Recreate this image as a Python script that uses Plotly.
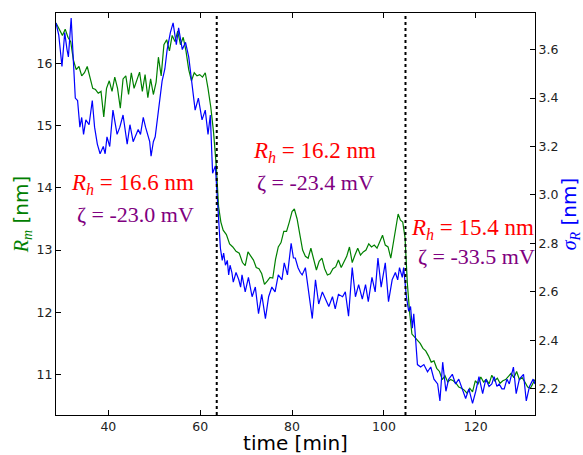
import plotly.graph_objects as go

# Green series: mean radius R_m [nm] (left axis)
t_rm = [28.6, 29.3, 30.0, 30.6, 31.2, 31.8, 32.4, 33.0, 33.6, 34.2, 34.8, 35.4, 36.0, 36.6, 37.2, 37.8,
        38.4, 39.0, 39.6, 40.2, 40.8, 41.4, 42.0, 42.6, 43.2, 43.8, 44.4, 45.0, 45.6, 46.2, 46.8, 47.4,
        48.0, 48.6, 49.2, 49.8, 50.4, 50.9, 51.5, 52.1, 52.7, 53.3, 53.9, 54.5, 55.1, 55.7, 56.3, 56.9,
        57.5, 58.1, 58.7, 59.3, 59.9, 60.5, 61.1, 61.7, 62.3, 62.9, 63.5, 64.0, 64.5, 65.0, 65.7, 66.4,
        67.1, 67.8, 68.5, 69.2, 69.8, 70.4, 71.0, 71.6, 72.2, 72.8, 73.4, 74.0, 74.6, 75.2, 75.8, 76.4,
        77.0, 77.6, 78.2, 78.8, 79.4, 80.0, 80.5, 81.1, 81.7, 82.3, 82.9, 83.5, 84.1, 84.7, 85.3, 85.9,
        86.5, 87.1, 87.7, 88.3, 88.9, 89.5, 90.1, 90.7, 91.3, 91.9, 92.5, 93.1, 93.7, 94.3, 94.9, 95.5,
        96.1, 96.7, 97.3, 97.9, 98.5, 99.1, 99.7, 100.3, 100.9, 101.5, 102.1, 102.6, 103.1, 103.6, 104.1,
        104.6, 105.1, 105.6, 106.1, 106.7, 107.3, 107.9, 108.5, 109.1, 109.7, 110.3, 110.9, 111.5, 112.1,
        112.7, 113.3, 113.9, 114.5, 115.1, 115.7, 116.3, 116.9, 117.5, 118.1, 118.7, 119.3, 119.9, 120.5,
        121.1, 121.7, 122.3, 122.9, 123.5, 124.1, 124.7, 125.3, 125.9, 126.5, 127.1, 127.7, 128.3, 128.9,
        129.5, 130.1, 130.7, 131.3, 131.9, 132.9]
rm = [16.65, 16.55, 16.45, 16.55, 16.42, 16.35, 16.05, 15.9, 15.95, 15.8, 15.85, 15.95, 15.78, 15.6, 15.58, 15.52,
      15.55, 15.14, 15.6, 15.72, 15.55, 15.78, 15.6, 15.28, 15.75, 15.8, 15.5, 15.85, 15.6, 15.72, 15.86, 15.55,
      15.82, 15.45, 15.75, 15.5, 15.7, 16.1, 15.8, 16.3, 16.38, 16.2, 16.45, 16.35, 16.52, 16.3, 16.42, 16.2,
      15.9, 15.72, 15.85, 15.8, 15.82, 15.78, 15.85, 15.6, 15.3, 14.9, 14.35, 13.7, 13.45, 13.32, 13.25, 13.1,
      13.05, 12.98, 12.95, 12.8, 12.75, 12.97, 12.9, 12.84, 12.72, 12.7, 12.62, 12.45, 12.5, 12.56, 12.55, 12.85,
      13.05, 13.12, 13.3, 13.3, 13.45, 13.62, 13.66, 13.5, 13.25, 13.0, 12.9, 12.87, 13.03, 12.85, 12.68, 12.82,
      12.87, 12.7, 12.6, 12.62, 12.7, 12.73, 12.84, 12.72, 12.8, 12.9, 13.05, 12.8, 12.92, 13.03, 12.92, 12.97,
      13.0, 13.1, 13.05, 13.08, 13.03, 13.15, 13.24, 13.08, 13.05, 12.87, 13.15, 13.4, 13.58, 13.48, 13.45,
      13.2, 12.47, 12.0, 11.65, 11.6, 11.55, 11.5, 11.42, 11.38, 11.3, 11.2, 11.22, 11.1, 11.05,
      10.92, 10.98, 10.88, 10.92, 10.9, 10.86, 10.8, 10.78, 10.75, 10.7, 10.78, 10.72, 10.9, 10.85,
      10.96, 10.88, 10.92, 10.85, 10.99, 10.9, 10.94, 10.86, 10.9, 10.92, 10.98, 11.02, 10.95, 11.05,
      10.92, 10.95, 10.88, 10.8, 10.78, 10.92]

# Blue series: width sigma_R [nm] (right axis)
t_sig = [28.6, 29.2, 29.9, 30.5, 31.0, 31.3, 31.9, 32.5, 32.8, 33.3, 33.8, 34.2, 34.6, 35.1, 35.8, 36.5,
         37.0, 37.6, 38.2, 38.9, 39.3, 39.7, 40.3, 41.0, 41.5, 41.9, 42.5, 43.2, 44.1, 44.7, 45.4, 46.0,
         46.5, 47.0, 47.6, 48.1, 48.5, 49.0, 49.3, 49.8, 50.2, 50.9, 51.7, 52.3, 52.8, 53.5, 54.1, 54.8,
         55.3, 56.1, 56.8, 57.5, 58.2, 58.9, 59.6, 60.4, 61.1, 61.7, 62.2, 62.7, 63.3, 63.7, 64.0, 64.4,
         64.8, 65.1, 65.5, 65.9, 66.2, 66.5, 66.9, 67.2, 67.8, 68.4, 68.8, 69.1, 69.8, 70.5, 71.3, 72.0,
         72.7, 73.4, 74.2, 74.9, 75.6, 76.3, 77.0, 77.8, 78.3, 79.0, 79.8, 80.3, 80.7, 81.3, 81.8, 82.2,
         82.9, 83.6, 84.4, 85.1, 85.8, 86.6, 87.3, 88.0, 88.8, 89.4, 90.1, 91.0, 91.6, 92.3, 93.1, 93.8,
         94.5, 95.3, 96.0, 96.6, 97.4, 98.1, 98.7, 99.4, 100.3, 101.0, 101.8, 102.5, 103.0, 103.4, 104.0,
         104.3, 104.9, 105.4, 105.8, 106.2, 106.5, 106.9, 107.3, 108.0, 108.7, 109.5, 110.2, 110.9, 111.7,
         112.2, 112.8, 113.5, 114.1, 114.9, 115.6, 116.3, 117.1, 117.8, 118.5, 119.3, 120.0, 120.7, 121.5,
         122.2, 122.9, 123.5, 124.0, 124.6, 125.1, 125.7, 126.2, 126.8, 127.3, 128.2, 128.8, 129.5, 130.4,
         131.0, 131.7, 132.5, 132.9]
sig = [3.71, 3.66, 3.53, 3.67, 3.60, 3.57, 3.73, 3.51, 3.40, 3.39, 3.28, 3.32, 3.25, 3.31, 3.29, 3.39,
       3.28, 3.21, 3.17, 3.20, 3.17, 3.24, 3.20, 3.35, 3.30, 3.25, 3.28, 3.33, 3.21, 3.29, 3.22, 3.25,
       3.27, 3.25, 3.32, 3.28, 3.25, 3.22, 3.16, 3.22, 3.24, 3.35, 3.47, 3.52, 3.60, 3.67, 3.71, 3.62,
       3.69, 3.60, 3.63, 3.57, 3.46, 3.35, 3.40, 3.31, 3.35, 3.25, 3.33, 3.09, 3.12, 3.00, 2.88, 2.78,
       2.73, 2.76, 2.71, 2.73, 2.67, 2.71, 2.68, 2.64, 2.68, 2.65, 2.62, 2.67, 2.60, 2.66, 2.58, 2.62,
       2.51, 2.59, 2.49, 2.58, 2.62, 2.60, 2.67, 2.65, 2.72, 2.67, 2.80, 2.74, 2.74, 2.70, 2.68, 2.67,
       2.70, 2.59, 2.49, 2.65, 2.55, 2.60, 2.57, 2.54, 2.58, 2.53, 2.59, 2.58, 2.60, 2.50, 2.70, 2.58,
       2.63, 2.57, 2.63, 2.56, 2.66, 2.60, 2.74, 2.62, 2.72, 2.56, 2.65, 2.68, 2.65, 2.70, 2.66,
       2.70, 2.58, 2.52, 2.54, 2.45, 2.51, 2.40, 2.30, 2.29, 2.30, 2.27, 2.29, 2.24, 2.22,
       2.15, 2.31, 2.19, 2.24, 2.26, 2.22, 2.24, 2.20, 2.16, 2.20, 2.14, 2.19, 2.25, 2.18,
       2.24, 2.21, 2.22, 2.25, 2.21, 2.22, 2.20, 2.20, 2.24, 2.22, 2.29, 2.18, 2.24, 2.26,
       2.15, 2.21, 2.24, 2.22]

# Vertical dotted markers (time, min)
t_marks = [63.6, 104.7]

# Annotations per stage
rh_labels = ["16.6", "16.2", "15.4"]
zeta_labels = ["-23.0", "-23.4", "-33.5"]
rh_pos = [(31.4, 14.06), (71.0, 14.57), (105.5, 13.34)]
zeta_pos = [(32.7, 13.58), (72.0, 14.08), (106.9, 12.89)]

x_ticks = [40, 60, 80, 100, 120]
y_ticks = [11, 12, 13, 14, 15, 16]
y2_ticks = [2.2, 2.4, 2.6, 2.8, 3.0, 3.2, 3.4, 3.6]

SERIF = "Liberation Serif"
SANS = "DejaVu Sans"

fig = go.Figure()
fig.add_trace(go.Scatter(x=t_rm, y=rm, mode="lines", line=dict(color="#008000", width=1.2),
                         yaxis="y", showlegend=False))
fig.add_trace(go.Scatter(x=t_sig, y=sig, mode="lines", line=dict(color="#0000ff", width=1.2),
                         yaxis="y2", showlegend=False))

for tm in t_marks:
    fig.add_shape(type="line", xref="x", yref="paper", x0=tm, x1=tm, y0=0, y1=1,
                  line=dict(color="black", width=2, dash="dot"))

for lab, (x, y) in zip(rh_labels, rh_pos):
    fig.add_annotation(x=x, y=y, xref="x", yref="y", xanchor="left", yanchor="middle",
                       text=f"<i>R</i><sub><i>h</i></sub> = {lab} nm", showarrow=False,
                       font=dict(family=SERIF, size=23, color="#ff0000"))
for lab, (x, y) in zip(zeta_labels, zeta_pos):
    fig.add_annotation(x=x, y=y, xref="x", yref="y", xanchor="left", yanchor="middle",
                       text=f"ζ = {lab} mV", showarrow=False,
                       font=dict(family=SERIF, size=22, color="#800080"))

axis_common = dict(showline=True, linecolor="black", linewidth=1.2, ticks="inside", ticklen=5,
                   tickcolor="black", showgrid=False, zeroline=False,
                   tickfont=dict(family=SANS, size=12.5, color="#222"))

fig.update_layout(
    width=583, height=455,
    margin=dict(l=56, r=48, t=13, b=40, autoexpand=False),
    plot_bgcolor="white", paper_bgcolor="white",
    xaxis=dict(range=[28.6, 132.9], tickvals=x_ticks, mirror="ticks",
               title=dict(text="time [min]", font=dict(family=SANS, size=20, color="black"), standoff=2),
               **axis_common),
    yaxis=dict(range=[10.35, 16.81], tickvals=y_ticks,
               title=dict(text=f"<span style=\"font-family:{SERIF}\"><i>R</i><sub><i>m</i></sub></span> [nm]",
                          font=dict(family=SANS, size=20, color="#008000"), standoff=2),
               **axis_common),
    yaxis2=dict(range=[2.092, 3.751], tickvals=y2_ticks, tickformat=".1f", overlaying="y", side="right",
                title=dict(text=f"<span style=\"font-family:{SERIF}\"><i>σ</i><sub><i>R</i></sub></span> [nm]",
                           font=dict(family=SANS, size=20, color="#0000ff"), standoff=2),
                **axis_common),
)

fig.write_html("out.html", config={"displayModeBar": False},
               post_script="document.body.style.margin='0';document.body.style.padding='0';")
